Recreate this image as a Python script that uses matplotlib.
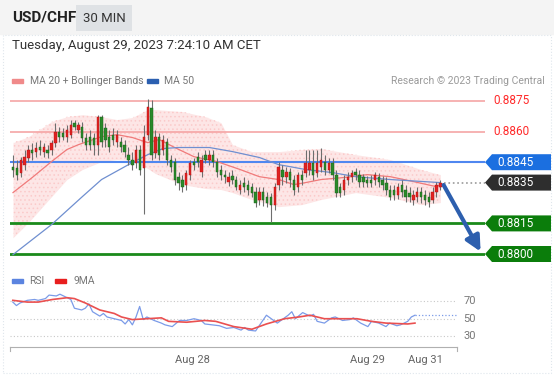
import matplotlib.pyplot as plt
import matplotlib.transforms as mtransforms
from matplotlib.patches import Polygon, Rectangle
import numpy as np

plt.rcParams['font.family'] = ['Roboto', 'DejaVu Sans']
plt.rcParams['hatch.linewidth'] = 0.6

# 30 min candles, USD/CHF
opens = [0.88428,0.88424,0.88399,0.88438,0.88473,0.88512,0.88502,0.88526,0.88502,0.88512,
         0.88512,0.88546,0.88600,0.88595,0.88575,0.88585,0.88644,0.88610,0.88624,0.88571,
         0.88575,0.88571,0.88536,0.88673,0.88620,0.88575,0.88585,0.88551,0.88551,0.88536,
         0.88487,0.88463,0.88448,0.88512,0.88424,0.88585,0.88718,0.88497,0.88575,0.88512,
         0.88551,0.88463,0.88453,0.88375,0.88365,0.88340,0.88389,0.88453,0.88477,0.88404,
         0.88487,0.88463,0.88487,0.88453,0.88414,0.88389,0.88355,0.88384,0.88365,0.88316,
         0.88350,0.88340,0.88326,0.88306,0.88267,0.88306,0.88281,0.88277,0.88242,0.88340,
         0.88414,0.88375,0.88404,0.88365,0.88330,0.88389,0.88399,0.88414,0.88448,0.88399,
         0.88428,0.88453,0.88414,0.88448,0.88389,0.88326,0.88316,0.88365,0.88379,0.88404,
         0.88389,0.88375,0.88365,0.88365,0.88365,0.88379,0.88365,0.88350,0.88316,0.88316,
         0.88291,0.88340,0.88316,0.88301,0.88267,0.88281,0.88306,0.88291,0.88281,0.88267,
         0.88306,0.88330]
closes = [0.88414,0.88389,0.88463,0.88477,0.88512,0.88497,0.88522,0.88512,0.88526,0.88497,
          0.88546,0.88600,0.88575,0.88575,0.88610,0.88634,0.88624,0.88634,0.88571,0.88536,
          0.88536,0.88536,0.88673,0.88551,0.88561,0.88526,0.88561,0.88585,0.88526,0.88502,
          0.88463,0.88438,0.88512,0.88414,0.88575,0.88722,0.88487,0.88575,0.88487,0.88561,
          0.88463,0.88428,0.88365,0.88350,0.88330,0.88399,0.88448,0.88438,0.88453,0.88463,
          0.88463,0.88487,0.88453,0.88404,0.88389,0.88375,0.88379,0.88365,0.88330,0.88340,
          0.88326,0.88316,0.88301,0.88252,0.88306,0.88267,0.88252,0.88242,0.88330,0.88428,
          0.88379,0.88404,0.88365,0.88316,0.88389,0.88365,0.88448,0.88448,0.88389,0.88448,
          0.88463,0.88414,0.88448,0.88389,0.88301,0.88301,0.88365,0.88379,0.88399,0.88389,
          0.88355,0.88355,0.88350,0.88350,0.88389,0.88355,0.88340,0.88316,0.88281,0.88291,
          0.88326,0.88306,0.88281,0.88281,0.88291,0.88306,0.88277,0.88267,0.88257,0.88306,
          0.88340,0.88350]
highs = [0.88487,0.88463,0.88477,0.88512,0.88536,0.88546,0.88551,0.88561,0.88546,0.88536,
         0.88561,0.88644,0.88624,0.88620,0.88634,0.88659,0.88659,0.88649,0.88649,0.88595,
         0.88610,0.88595,0.88683,0.88683,0.88644,0.88610,0.88620,0.88610,0.88575,0.88561,
         0.88526,0.88502,0.88536,0.88536,0.88634,0.88762,0.88757,0.88610,0.88595,0.88585,
         0.88571,0.88487,0.88473,0.88404,0.88389,0.88414,0.88463,0.88473,0.88502,0.88487,
         0.88512,0.88512,0.88512,0.88473,0.88438,0.88414,0.88404,0.88414,0.88384,0.88365,
         0.88375,0.88365,0.88350,0.88330,0.88326,0.88326,0.88306,0.88301,0.88350,0.88453,
         0.88438,0.88428,0.88424,0.88389,0.88404,0.88414,0.88512,0.88512,0.88512,0.88512,
         0.88522,0.88487,0.88473,0.88473,0.88414,0.88350,0.88389,0.88404,0.88414,0.88424,
         0.88414,0.88394,0.88384,0.88389,0.88404,0.88399,0.88384,0.88375,0.88340,0.88340,
         0.88350,0.88365,0.88340,0.88326,0.88316,0.88330,0.88330,0.88316,0.88306,0.88326,
         0.88355,0.88365]
lows = [0.88375,0.88365,0.88375,0.88414,0.88453,0.88463,0.88477,0.88487,0.88477,0.88473,
        0.88487,0.88526,0.88551,0.88561,0.88551,0.88571,0.88610,0.88595,0.88551,0.88512,
        0.88512,0.88487,0.88487,0.88526,0.88526,0.88502,0.88536,0.88526,0.88502,0.88477,
        0.88438,0.88414,0.88424,0.88389,0.88198,0.88561,0.88463,0.88473,0.88463,0.88487,
        0.88438,0.88404,0.88340,0.88316,0.88306,0.88316,0.88365,0.88414,0.88428,0.88379,
        0.88448,0.88438,0.88428,0.88379,0.88365,0.88350,0.88335,0.88345,0.88316,0.88296,
        0.88306,0.88291,0.88281,0.88232,0.88242,0.88237,0.88228,0.88159,0.88218,0.88316,
        0.88340,0.88350,0.88326,0.88291,0.88306,0.88340,0.88375,0.88389,0.88365,0.88375,
        0.88404,0.88389,0.88399,0.88365,0.88281,0.88281,0.88291,0.88340,0.88355,0.88365,
        0.88330,0.88330,0.88326,0.88326,0.88340,0.88330,0.88316,0.88291,0.88267,0.88267,
        0.88272,0.88281,0.88257,0.88257,0.88242,0.88257,0.88252,0.88242,0.88232,0.88252,
        0.88281,0.88316]

# MA20 / MA50 / bollinger bands, read at some candles
ma20_x = [0,5,10,14,17,23,27,31,35,38,42,47,53,59,64,69,73,76,80,86,92,98,104,110,111]
ma20_y = [0.88301,0.88375,0.88453,0.88512,0.88536,0.88575,0.88585,0.88571,0.88546,0.88561,
          0.88522,0.88477,0.88453,0.88414,0.88379,0.88365,0.88340,0.88350,0.88365,0.88375,
          0.88389,0.88379,0.88355,0.88330,0.88340]
ma50_x = [0,10,18,23,30,35,39,43,51,57,64,69,72,76,83,89,98,111]
ma50_y = [0.87997,0.88144,0.88281,0.88365,0.88438,0.88487,0.88517,0.88522,0.88522,0.88502,
          0.88473,0.88438,0.88428,0.88414,0.88399,0.88379,0.88365,0.88350]
bb_x = [0,4,10,14,18,23,27,31,35,37,44,50,54,57,62,69,75,80,89,98,106,111]
bb_up = [0.88546,0.88575,0.88649,0.88673,0.88683,0.88673,0.88659,0.88669,0.88708,0.88708,0.88698,
         0.88673,0.88644,0.88536,0.88502,0.88502,0.88512,0.88517,0.88487,0.88463,0.88414,0.88389]
bb_low = [0.88080,0.88154,0.88281,0.88365,0.88414,0.88453,0.88463,0.88458,0.88419,0.88394,0.88340,
          0.88321,0.88316,0.88301,0.88267,0.88232,0.88242,0.88267,0.88301,0.88277,0.88242,0.88252]

# key levels
resist = [0.8875, 0.8860]
pivot = 0.8845
last_price = 0.8835
support = [0.8815, 0.8800]
arrow_end_x = 121.8

# RSI panel
rsi_x = [0,1,2,4,6,7,9,10,12,13,15,16,17,19,20,21,22,24,25,26,28,30,31,32,33,34,35,36,37,39,
         41,42,44,46,48,50,52,53,55,57,59,61,63,64,65,67,69,70,71,73,74,76,77,78,80,82,83,84,86,88,
         89,91,93,94,96,98,99,101,103,104,106,107,109,110,111]
rsi_y = [69,65,68,71,72,71,73,77,76,78,74,72,62,60,62,67,58,53,56,52,50,48,44,49,43,52,64,49,52,48,
         45,43,41,48,48,50,48,44,43,42,39,40,37,40,37,36,48,54,51,45,48,54,58,50,57,53,55,47,45,51,
         52,48,49,51,45,41,47,45,41,45,42,43,47,52,54]
ma9_x = [0,4,7,11,15,17,20,24,28,30,33,37,41,43,48,53,56,61,66,70,75,79,82,86,90,95,99,103,109,111]
ma9_y = [71,69,69,72,74,73,68,60,56,52,49,50,51,47,46,48,47,41,38,44,50,52,54,50,50,50,47,45,44,45]
rsi_levels = [30, 50, 70]
date_labels = ['Aug 28', 'Aug 29', 'Aug 31']
date_pos = [49.5, 97.8, 113.8]

W, H = 554, 375
fig = plt.figure(figsize=(W/100, H/100), dpi=100)
fig.patch.set_facecolor('white')

def fx(x):
    return x / W

def fy(y):
    return 1 - y / H

# header band and frame
fig.patches.append(Rectangle((0, fy(34)), 1, 34/H, transform=fig.transFigure, color='#f4f4f4', zorder=0))
fig.patches.append(Rectangle((fx(3), fy(373)), fx(548), (373-35)/H, transform=fig.transFigure,
                             fill=False, ec='#dfe6ec', lw=0.8, ls=':', zorder=0))
fig.text(fx(12), fy(18), 'USD/CHF', fontsize=11, fontweight='bold', color='#222', va='center')
fig.text(fx(83), fy(18), '30 MIN', fontsize=9.5, color='#333', va='center',
         bbox=dict(boxstyle='square,pad=0.5', fc='#dfe2e5', ec='none'))
fig.text(fx(12), fy(46), 'Tuesday, August 29, 2023 7:24:10 AM CET', fontsize=9.5, color='#333', va='center')

# legend row
fig.patches.append(Rectangle((fx(12), fy(83)), fx(11), 4/H, transform=fig.transFigure, color='#f08a8a'))
fig.text(fx(30), fy(81), 'MA 20 + Bollinger Bands', fontsize=7.5, color='#777', va='center')
fig.patches.append(Rectangle((fx(147), fy(83)), fx(11), 4/H, transform=fig.transFigure, color='#2b5fb0'))
fig.text(fx(164), fy(81), 'MA 50', fontsize=7.5, color='#777', va='center')
fig.text(fx(545), fy(81), 'Research \u00a9 2023 Trading Central', fontsize=7.5, color='#9a9a9a',
         va='center', ha='right')

# ---- main price panel
ax = fig.add_axes([fx(10), fy(262), fx(475), 172/H])
ax.set_xlim(-0.78, 122.6)
ax.set_ylim(0.879608, 0.888039)
ax.axis('off')

ax.fill_between(bb_x, bb_low, bb_up, color='#fde6e6', lw=0, zorder=1)
ax.fill_between(bb_x, bb_low, bb_up, facecolor='none', edgecolor='#fbcaca', hatch='....', lw=0, zorder=1)
ax.plot(ma20_x, ma20_y, color='#f07a7a', lw=0.9, zorder=2)
ax.plot(ma50_x, ma50_y, color='#6f8fd0', lw=0.9, zorder=2)

for lv in resist:
    ax.axhline(lv, color='#f5a5a5', lw=1.2, zorder=1.5)
ax.axhline(pivot, color='#4f87f0', lw=1.5, zorder=1.5)
for lv in support:
    ax.axhline(lv, color='#1a8a1a', lw=2, zorder=1.5)

o = np.array(opens); c = np.array(closes)
idx = np.arange(len(o))
up = c >= o
ax.vlines(idx, lows, highs, color='#6e6e6e', lw=0.8, zorder=3)
ax.bar(idx[up], (c - o)[up], bottom=o[up], width=0.62, color='#e02222', ec='#b01010', lw=0.3, zorder=4)
ax.bar(idx[~up], (o - c)[~up], bottom=c[~up], width=0.62, color='#2a8a2a', ec='#1a5a1a', lw=0.3, zorder=4)

# dotted line from last price to the label
ax.plot([idx[-1] + 1, 122.6], [last_price, last_price], ls=':', color='#9a9a9a', lw=1.2, zorder=3)

# forecast arrow
ax.annotate('', xy=(arrow_end_x, support[1]), xytext=(idx[-1] + 0.5, closes[-1]),
            arrowprops=dict(arrowstyle='-|>,head_length=0.9,head_width=0.45', color='#2d5fae', lw=3),
            zorder=6, annotation_clip=False)

# level labels on the right
tr = mtransforms.blended_transform_factory(fig.transFigure, ax.transData)
half = 8 * 0.000049
for lv in resist:
    fig.text(fx(493), lv, '%.4f' % lv, transform=tr, fontsize=8.5, color='#ff2a2a', va='center')

def tag(lv, color):
    pts = [(fx(485), lv), (fx(492), lv + half), (fx(551), lv + half), (fx(551), lv - half), (fx(492), lv - half)]
    fig.patches.append(Polygon(pts, closed=True, transform=tr, fc=color, ec='none'))
    fig.text(fx(497), lv, '%.4f' % lv, transform=tr, fontsize=8.5, color='white', va='center')

tag(pivot, '#1b6fe0')
tag(last_price, '#2e2e2e')
for lv in support:
    tag(lv, '#0b7d0b')

# ---- RSI panel
ax2 = fig.add_axes([fx(10), fy(347), fx(447), 57/H])
ax2.set_xlim(-0.78, 122.6)
ax2.set_ylim(17.7, 82.8)
for s in ['top', 'right', 'left']:
    ax2.spines[s].set_visible(False)
ax2.spines['bottom'].set_color('#b0b0b0')
ax2.set_yticks([])
ax2.set_xticks([])
for lv in rsi_levels:
    ax2.axhline(lv, color='#c8c8c8', lw=0.8, ls=(0, (1, 2)))
    ax2.text(1.015, lv, str(lv), transform=ax2.get_yaxis_transform(), fontsize=8, color='#777', va='center')
ax2.plot(rsi_x, rsi_y, color='#7b9be8', lw=0.9)
ax2.plot([rsi_x[-1], 122.6], [rsi_y[-1], rsi_y[-1]], color='#7b9be8', lw=0.9, ls=':')
ax2.plot(ma9_x, ma9_y, color='#ea5050', lw=1.2)
# end ticks of the time axis
ax2.plot([0, 0], [0, -0.07], transform=ax2.transAxes, color='#b0b0b0', lw=0.8, clip_on=False)
ax2.plot([1, 1], [0, -0.07], transform=ax2.transAxes, color='#b0b0b0', lw=0.8, clip_on=False)
for lab, p in zip(date_labels, date_pos):
    ax2.text(p, -0.22, lab, transform=ax2.get_xaxis_transform(), fontsize=8, color='#666', ha='center', va='center')

# RSI legend
fig.patches.append(Rectangle((fx(12), fy(283)), fx(11), 4/H, transform=fig.transFigure, color='#5b84e0'))
fig.text(fx(29), fy(281), 'RSI', fontsize=7.5, color='#777', va='center')
fig.patches.append(Rectangle((fx(55), fy(283)), fx(11), 4/H, transform=fig.transFigure, color='#e81e1e'))
fig.text(fx(73), fy(281), '9MA', fontsize=7.5, color='#777', va='center')

fig.savefig('out.png', dpi=100)
